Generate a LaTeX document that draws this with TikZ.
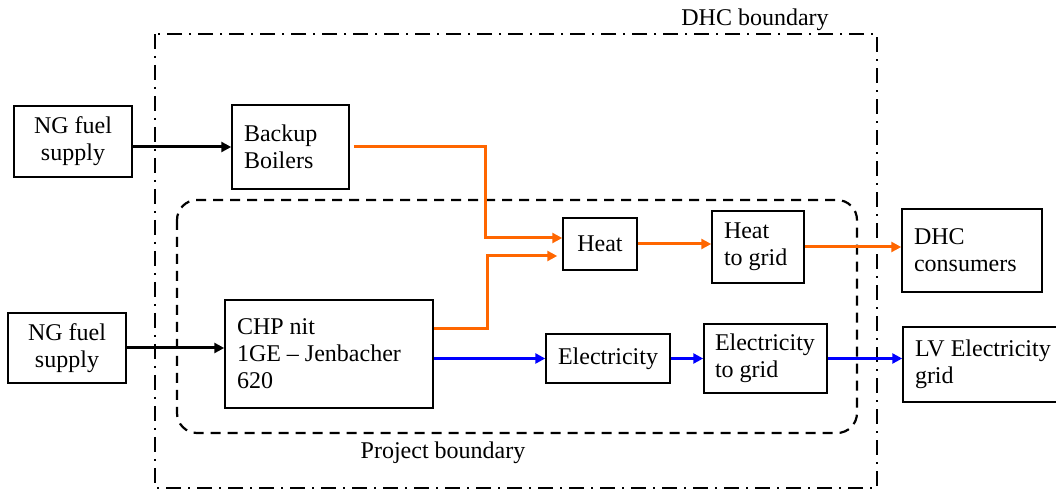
\documentclass[tikz,border=0pt]{standalone}
\usepackage{fontspec}
\setmainfont{Liberation Serif}
\usetikzlibrary{arrows.meta}

\definecolor{heatorange}{RGB}{255,102,0}
\definecolor{elecblue}{RGB}{0,0,255}

\begin{document}
\begin{tikzpicture}[
    x=0.5pt, y=-0.5pt,
    every node/.style={font=\fontsize{12}{13.5}\selectfont},
    box/.style={draw, line width=0.75pt, inner xsep=6pt, inner ysep=2pt,
                align=flush center},
    lbox/.style={draw, line width=0.75pt, inner xsep=6pt, inner ysep=2pt,
                 align=flush left},
    arrow/.style={-{Triangle[length=5pt, width=5pt]}, line width=1.5pt},
    hot/.style={arrow, heatorange},
    power/.style={arrow, elecblue},
    bound/.style={line width=1.1pt}
]

\useasboundingbox (0,0) rectangle (1056,491);

% --- DHC boundary ---
\draw[bound, dash pattern=on 7.5pt off 3.5pt on 1pt off 3.5pt]
    (155,34) rectangle (877,488);
\node (dhclabel) at (755,20) {DHC boundary};

% --- Project boundary ---
\draw[bound, dashed, dash pattern=on 5pt off 3.5pt, rounded corners=10pt]
    (177,200) rectangle (857,433);
\node (projlabel) at (443,453) {Project boundary};

% Fuel supplies
\node[box, minimum width=59pt, minimum height=35.5pt] (ng1) at (73,141.5)
    {NG fuel\\supply};
\node[box, minimum width=59pt, minimum height=35pt] (ng2) at (67,348)
    {NG fuel\\supply};

% Generation units
\node[lbox, text width=46.5pt, minimum height=42pt] (boil) at (290.5,147)
    {Backup\\Boilers};
\node[lbox, text width=92pt, minimum height=54pt] (chp) at (329,354)
    {CHP nit\\1GE -- Jenbacher\\620};

% Heat and electricity
\node[box, minimum width=37pt, minimum height=26pt] (heat) at (600,244)
    {Heat};
\node[lbox, text width=34pt, minimum height=36pt] (htg) at (758,247)
    {Heat\\to grid};
\node[box, minimum width=61pt, minimum height=24.5pt] (elec) at (608,358.5)
    {Electricity};
\node[lbox, inner xsep=5.5pt, text width=50.5pt, minimum height=34.5pt] (etg)
    at (765.5,358.5) {Electricity\\to grid};

% Consumers
\node[lbox, text width=58pt, minimum height=41.5pt] (dhc) at (972,250.5)
    {DHC\\consumers};
\node[lbox, text width=76pt, minimum height=37.5pt] (lv) at (991,364.5)
    {LV Electricity\\grid};

% Fuel arrows
\draw[arrow] (ng1.east |- boil.west) -- (boil.west);
\draw[arrow] (ng2.east) -- (ng2.east -| chp.west);

% Heat flows
\draw[hot] ([xshift=2pt]boil.east) -| ([xshift=-38.5pt, yshift=3pt]heat.west)
    -- ([yshift=3pt]heat.west);
\draw[hot] ([yshift=12.5pt]chp.east) -| ([xshift=-37.5pt, yshift=-6pt]heat.west)
    -- ([xshift=-2.5pt, yshift=-6pt]heat.west);
\draw[hot] (heat.east) -- (heat.east -| htg.west);
\draw[hot] (htg.east) -- (htg.east -| dhc.west);

% Electricity flows
\draw[power] (chp.east |- elec.west) -- (elec.west);
\draw[power] (elec.east) -- (etg.west);
\draw[power] (etg.east) -- (etg.east -| lv.west);

\end{tikzpicture}
\end{document}
